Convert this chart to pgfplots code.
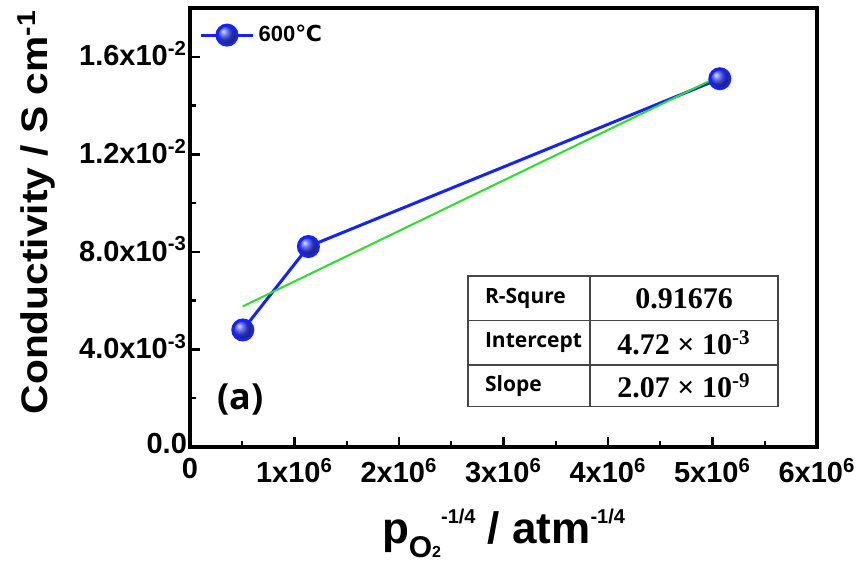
\documentclass[border=0pt]{standalone}
\usepackage{fontspec}
\setmainfont{Liberation Sans}
\newfontfamily\ylabfont{Liberation Sans}[FakeStretch=1.1]
\newfontfamily\tabsans{Open Sans}
\newfontfamily\tabserif{Liberation Serif}
\newfontfamily\dejavu{DejaVu Sans}
\newfontfamily\parenfont{Open Sans}
\usepackage{pgfplots}
\pgfplotsset{compat=1.18}
\definecolor{fitgreen}{RGB}{40,225,40}
\definecolor{ballblue}{RGB}{20,35,250}
\definecolor{tabline}{RGB}{70,70,70}
\begin{document}
\begin{tikzpicture}
\path[use as bounding box] (-95pt,-58.5pt) rectangle (336pt,223.5pt);
\begin{axis}[
  scale only axis, width=313.5pt, height=219.5pt,
  xmin=0, xmax=6000000, ymin=0, ymax=0.018,
  scaled ticks=false,
  xtick={0,1000000,2000000,3000000,4000000,5000000,6000000},
  xticklabels={0,1x10\textsuperscript{6},2x10\textsuperscript{6},3x10\textsuperscript{6},4x10\textsuperscript{6},5x10\textsuperscript{6},6x10\textsuperscript{6}},
  minor xtick={500000,1500000,2500000,3500000,4500000,5500000},
  ytick={0,0.004,0.008,0.012,0.016},
  yticklabels={0.0,4.0x10\textsuperscript{-3},8.0x10\textsuperscript{-3},1.2x10\textsuperscript{-2},1.6x10\textsuperscript{-2}},
  minor ytick={0.002,0.006,0.010,0.014},
  tick align=inside, xtick pos=bottom, ytick pos=left,
  major tick length=5pt, minor tick length=3pt,
  every tick/.style={black, line width=1.2pt},
  axis line style={line width=2pt},
  ticklabel style={font=\fontsize{14.5}{16}\selectfont\bfseries},
  xticklabel style={yshift=-2pt},
  yticklabel style={xshift=2pt, yshift=1.5pt},
  xlabel={p\raisebox{-7pt}{\fontsize{15}{15}\selectfont O\fontsize{8}{8}\selectfont 2}\raisebox{10pt}{\fontsize{10}{10}\selectfont -1/4} / atm\raisebox{10pt}{\fontsize{10}{10}\selectfont -1/4}},
  xlabel style={font=\fontsize{22}{24}\selectfont\bfseries, at={(axis description cs:0.5,0)}, anchor=base, yshift=-48pt},
  ylabel={Conductivity / S cm\textsuperscript{-1}},
  ylabel style={font=\ylabfont\bfseries\fontsize{18.5}{20}\selectfont, at={(axis description cs:-0.203,0.535)}, anchor=south},
  legend style={at={(0.011,0.975)}, anchor=north west, draw=none, fill=none, font=\fontsize{11}{13}\selectfont\bfseries, inner sep=1pt},
  legend cell align=left,
  legend image code/.code={\draw[mark repeat=2,mark phase=2] plot coordinates {(0cm,0cm) (0.46cm,0cm) (0.92cm,0cm)};},
  clip=false,
]
\addplot[ballblue, line width=1.5pt, mark=ball, mark size=5pt, mark options={ball color=ballblue!85!white}] coordinates {(505000,0.0048) (1133000,0.00822) (5070000,0.0151)};
\addlegendentry{600{\dejavu\bfseries ℃}}
\addplot[fitgreen, line width=1pt, forget plot] coordinates {(505000,0.0057654) (5070000,0.0152149)};
\draw[line width=0.7pt, tabline, fill=white] (rel axis cs:0.4434,0.0918) rectangle (rel axis cs:0.9378,0.3895);
\draw[line width=0.7pt, tabline] (rel axis cs:0.4434,0.2877) -- (rel axis cs:0.9378,0.2877);
\draw[line width=0.7pt, tabline] (rel axis cs:0.4434,0.1868) -- (rel axis cs:0.9378,0.1868);
\draw[line width=0.7pt, tabline] (rel axis cs:0.638,0.0918) -- (rel axis cs:0.638,0.3895);
\node[anchor=west, font=\tabsans\bfseries\fontsize{10.5}{12}\selectfont] at (rel axis cs:0.4593,0.3385) {R-Squre};
\node[anchor=west, font=\tabsans\bfseries\fontsize{10.5}{12}\selectfont] at (rel axis cs:0.4593,0.2371) {Intercept};
\node[anchor=west, font=\tabsans\bfseries\fontsize{10.5}{12}\selectfont] at (rel axis cs:0.4593,0.1392) {Slope};
\node[font=\tabserif\bfseries\fontsize{15}{17}\selectfont] at (rel axis cs:0.7879,0.3385) {0.91676};
\node[font=\tabserif\bfseries\fontsize{15}{17}\selectfont] at (rel axis cs:0.7879,0.2371) {4.72 × 10\textsuperscript{-3}};
\node[font=\tabserif\bfseries\fontsize{15}{17}\selectfont] at (rel axis cs:0.7879,0.1392) {2.07 × 10\textsuperscript{-9}};
\node[font=\parenfont\bfseries\fontsize{18}{20}\selectfont] at (axis cs:480000,0.00193) {(a)};
\end{axis}
\end{tikzpicture}
\end{document}
